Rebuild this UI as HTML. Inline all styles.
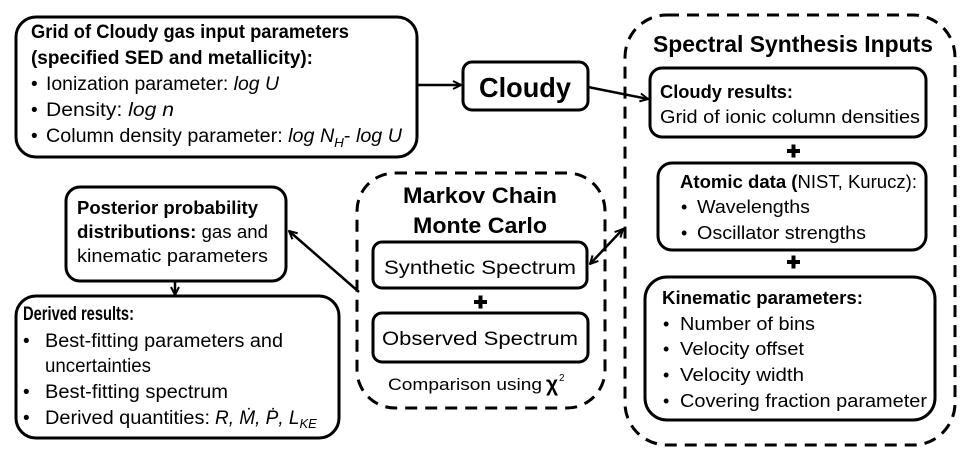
<!DOCTYPE html>
<html><head><meta charset="utf-8"><style>
html,body{margin:0;padding:0;background:#fff;}
svg{display:block;}
text{font-family:"Liberation Sans",sans-serif;fill:#000;}
.b{font-weight:bold;}
.i{font-style:italic;}
</style></head><body>
<svg width="969" height="454" viewBox="0 0 969 454" xmlns="http://www.w3.org/2000/svg">
<defs>
<marker id="a" markerWidth="10" markerHeight="10" refX="9" refY="5" orient="auto" markerUnits="userSpaceOnUse">
<path d="M1,1 L9,5 L1,9" fill="none" stroke="#000" stroke-width="2"/>
</marker>
<marker id="s" markerWidth="10" markerHeight="10" refX="1" refY="5" orient="auto" markerUnits="userSpaceOnUse">
<path d="M9,1 L1,5 L9,9" fill="none" stroke="#000" stroke-width="2"/>
</marker>
</defs>
<g fill="none" stroke="#000" stroke-width="3">
<rect x="16" y="17" width="401" height="140" rx="20"/>
<rect x="463" y="62" width="125" height="48" rx="9"/>
<rect x="625" y="15" width="330" height="430" rx="42" stroke-dasharray="12,8"/>
<rect x="650" y="68" width="276" height="69" rx="12"/>
<rect x="658" y="163" width="268" height="87" rx="14"/>
<rect x="645" y="277" width="290" height="143" rx="22"/>
<rect x="357" y="173" width="248" height="235" rx="38" stroke-dasharray="12,8"/>
<rect x="373" y="242" width="214" height="46" rx="9"/>
<rect x="373" y="313" width="215" height="49" rx="9"/>
<rect x="66" y="187" width="220" height="94" rx="14"/>
<rect x="16" y="296" width="323" height="142" rx="20"/>
</g>
<g stroke="#000" stroke-width="2.5" fill="none">
<line x1="417" y1="85" x2="461" y2="85" marker-end="url(#a)"/>
<line x1="588" y1="87" x2="648" y2="99" marker-end="url(#a)"/>
<line x1="359" y1="292" x2="289" y2="231" marker-end="url(#a)"/>
<line x1="175" y1="281" x2="175" y2="295" marker-end="url(#a)"/>
<line x1="590" y1="264" x2="623" y2="229" marker-start="url(#s)" marker-end="url(#a)"/>
</g>
<g fill="#000">
<rect x="787" y="149" width="13" height="4"/><rect x="791.5" y="144.5" width="4" height="13"/>
<rect x="787" y="260" width="13" height="4"/><rect x="791.5" y="255.5" width="4" height="13"/>
<rect x="474" y="300" width="13" height="4"/><rect x="478.5" y="295.5" width="4" height="13"/>
</g>
<text x="31" y="38" class="b" font-size="19" textLength="318" lengthAdjust="spacingAndGlyphs">Grid of Cloudy gas input parameters</text>
<text x="31" y="64" class="b" font-size="19" textLength="282" lengthAdjust="spacingAndGlyphs">(specified SED and metallicity):</text>
<text x="31" y="90" font-size="19">•</text>
<text x="46" y="90" font-size="19" textLength="233" lengthAdjust="spacingAndGlyphs">Ionization parameter: <tspan class="i">log U</tspan></text>
<text x="31" y="116" font-size="19">•</text>
<text x="46" y="116" font-size="19" textLength="128" lengthAdjust="spacingAndGlyphs">Density: <tspan class="i">log n</tspan></text>
<text x="31" y="142" font-size="19">•</text>
<text x="46" y="142" font-size="19" textLength="356" lengthAdjust="spacingAndGlyphs">Column density parameter: <tspan class="i">log N</tspan><tspan class="i" font-size="13" dy="5">H</tspan><tspan dy="-5">- </tspan><tspan class="i">log U</tspan></text>
<text x="525" y="97" class="b" font-size="28" text-anchor="middle" textLength="92" lengthAdjust="spacingAndGlyphs">Cloudy</text>
<text x="653" y="52" class="b" font-size="23" textLength="280" lengthAdjust="spacingAndGlyphs">Spectral Synthesis Inputs</text>
<text x="660" y="98" class="b" font-size="18" textLength="133" lengthAdjust="spacingAndGlyphs">Cloudy results:</text>
<text x="660" y="123" font-size="18" textLength="260" lengthAdjust="spacingAndGlyphs">Grid of ionic column densities</text>
<text x="680" y="188" font-size="18" textLength="237" lengthAdjust="spacingAndGlyphs"><tspan class="b">Atomic data (</tspan>NIST, Kurucz):</text>
<text x="681" y="213" font-size="18">•</text>
<text x="697" y="213" font-size="18" textLength="113" lengthAdjust="spacingAndGlyphs">Wavelengths</text>
<text x="681" y="239" font-size="18">•</text>
<text x="697" y="239" font-size="18" textLength="169" lengthAdjust="spacingAndGlyphs">Oscillator strengths</text>
<text x="662" y="304" class="b" font-size="18" textLength="201" lengthAdjust="spacingAndGlyphs">Kinematic parameters:</text>
<text x="663" y="330" font-size="18">•</text>
<text x="680" y="330" font-size="18" textLength="135" lengthAdjust="spacingAndGlyphs">Number of bins</text>
<text x="663" y="355" font-size="18">•</text>
<text x="680" y="355" font-size="18" textLength="124" lengthAdjust="spacingAndGlyphs">Velocity offset</text>
<text x="663" y="381" font-size="18">•</text>
<text x="680" y="381" font-size="18" textLength="124" lengthAdjust="spacingAndGlyphs">Velocity width</text>
<text x="663" y="407" font-size="18">•</text>
<text x="680" y="407" font-size="18" textLength="247" lengthAdjust="spacingAndGlyphs">Covering fraction parameter</text>
<text x="480" y="203" class="b" font-size="22" text-anchor="middle" textLength="154" lengthAdjust="spacingAndGlyphs">Markov Chain</text>
<text x="480" y="233" class="b" font-size="22" text-anchor="middle" textLength="134" lengthAdjust="spacingAndGlyphs">Monte Carlo</text>
<text x="480" y="274" font-size="19" text-anchor="middle" textLength="192" lengthAdjust="spacingAndGlyphs">Synthetic Spectrum</text>
<text x="480" y="345" font-size="19" text-anchor="middle" textLength="196" lengthAdjust="spacingAndGlyphs">Observed Spectrum</text>
<text x="388" y="390" font-size="17" textLength="154" lengthAdjust="spacingAndGlyphs">Comparison using</text>
<text x="546" y="391" class="b" font-size="21">χ</text>
<text x="559" y="381" font-size="10">2</text>
<text x="77" y="214" class="b" font-size="18" textLength="181" lengthAdjust="spacingAndGlyphs">Posterior probability</text>
<text x="77" y="238" font-size="18" textLength="191" lengthAdjust="spacingAndGlyphs"><tspan class="b">distributions:</tspan> gas and</text>
<text x="77" y="262" font-size="18" textLength="191" lengthAdjust="spacingAndGlyphs">kinematic parameters</text>
<text x="23" y="320" class="b" font-size="19" textLength="111" lengthAdjust="spacingAndGlyphs">Derived results:</text>
<text x="23" y="347" font-size="19">•</text>
<text x="45" y="347" font-size="19" textLength="238" lengthAdjust="spacingAndGlyphs">Best-fitting parameters and</text>
<text x="45" y="372" font-size="19" textLength="106" lengthAdjust="spacingAndGlyphs">uncertainties</text>
<text x="23" y="398" font-size="19">•</text>
<text x="45" y="398" font-size="19" textLength="183" lengthAdjust="spacingAndGlyphs">Best-fitting spectrum</text>
<text x="23" y="424" font-size="19">•</text>
<text x="45" y="424" font-size="19" textLength="165" lengthAdjust="spacingAndGlyphs">Derived quantities:</text>
<text x="215" y="424" font-size="19" font-family="Liberation Serif" font-style="italic">R, <tspan>Ṁ</tspan>, <tspan>Ṗ</tspan>, L<tspan font-size="13" dy="4">KE</tspan></text>
</svg>
</body></html>
